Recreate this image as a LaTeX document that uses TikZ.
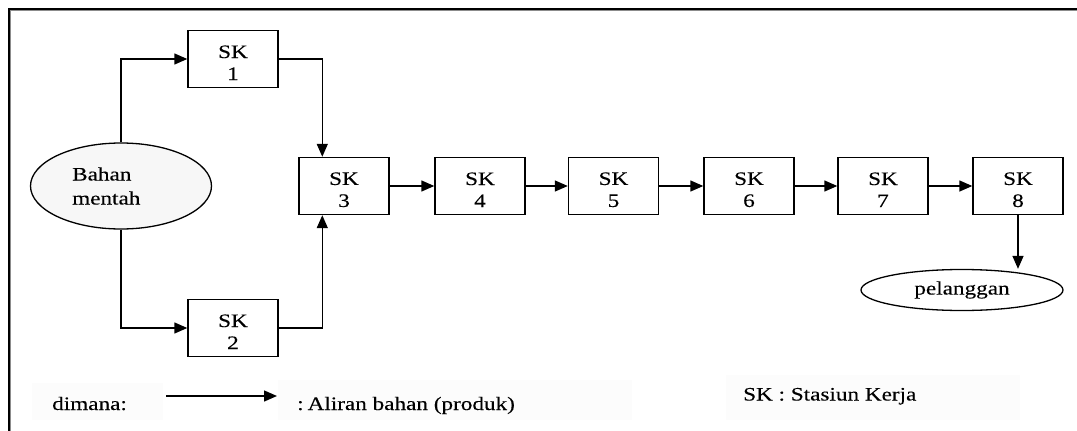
\documentclass[tikz,border=0pt]{standalone}
\usepackage{fontspec}
\setmainfont{Liberation Serif}[FakeStretch=1.22, FakeBold=0.2]
\usetikzlibrary{arrows.meta,shapes.geometric}

% strut that lowers the two-line labels inside the station boxes
\newcommand{\boxstrut}{\rule{0pt}{20pt}}

\begin{document}
\begin{tikzpicture}[x=1pt,y=-1pt,
  txt/.style={font=\fontsize{19}{22}\selectfont, inner sep=0pt},
  flow/.style={line width=1.4pt, -{Triangle[length=13pt,width=11pt]}},
  stationbox/.style={txt, draw, line width=1.4pt, rectangle,
    minimum width=90pt, minimum height=57pt, align=center, fill=white},
  endpoint/.style={txt, draw, line width=1.3pt, ellipse},
  legendbg/.style={fill=black!1}
]
\useasboundingbox[fill=white] (0,0) rectangle (1077,431);

% outer frame (open to the right and bottom)
\draw[line width=1.2pt, black!45] (10,431) -- (10,10) -- (1077,10);
\draw[line width=2pt] (8.5,431) -- (8.5,8.5) -- (1077,8.5);

% raw material source
\node[endpoint, fill=black!3, minimum width=181pt, minimum height=86pt] (bm) at (121,186) {};
\node[txt, align=left, anchor=west, font=\fontsize{19}{24}\selectfont] (bmtext) at (72,186) {Bahan\\mentah};

% work stations
\node[stationbox] (sk1) at (233,59)  {\boxstrut SK\\1};
\node[stationbox] (sk2) at (233,328) {\boxstrut SK\\2};
\node[stationbox] (sk3) at (344,186) {\boxstrut SK\\3};
\node[stationbox] (sk4) at (480,186) {\boxstrut SK\\4};
\node[stationbox] (sk5) at (613.5,186) {\boxstrut SK\\5};
\node[stationbox] (sk6) at (749,186) {\boxstrut SK\\6};
\node[stationbox] (sk7) at (883,186) {\boxstrut SK\\7};
\node[stationbox] (sk8) at (1018,186) {\boxstrut SK\\8};

% customer
\node[endpoint, minimum width=202pt, minimum height=41pt] (pel) at (962,290) {pelanggan};

% material flow
\coordinate (in3a) at ([xshift=24pt]sk3.north west);
\coordinate (in3b) at ([xshift=24pt]sk3.south west);
\draw[flow] (bm.north) |- (sk1.west);
\draw[flow] (bm.south) |- (sk2.west);
\draw[flow] (sk1.east) -| (in3a);
\draw[flow] (sk2.east) -| (in3b);
\draw[flow] (sk3) -- (sk4);
\draw[flow] (sk4) -- (sk5);
\draw[flow] (sk5) -- (sk6);
\draw[flow] (sk6) -- (sk7);
\draw[flow] (sk7) -- (sk8);
\draw[flow] (sk8.south) -- (sk8.south |- pel.north);

% legend
\fill[legendbg] (32,383) rectangle (163,420);
\fill[legendbg] (278,380) rectangle (632,420);
\fill[legendbg] (726,375) rectangle (1020,420);
\node[txt, anchor=base west] (dm) at (52,410) {dimana:};
\coordinate (lega) at (166,396);
\coordinate (legb) at (277,396);
\draw[flow] (lega) -- (legb);
\node[txt, anchor=base west] (aliran) at (297,410) {:\kern4pt Aliran bahan (produk)};
\node[txt, anchor=base west] (skdef) at (743,400.5) {SK : Stasiun Kerja};
\end{tikzpicture}
\end{document}
